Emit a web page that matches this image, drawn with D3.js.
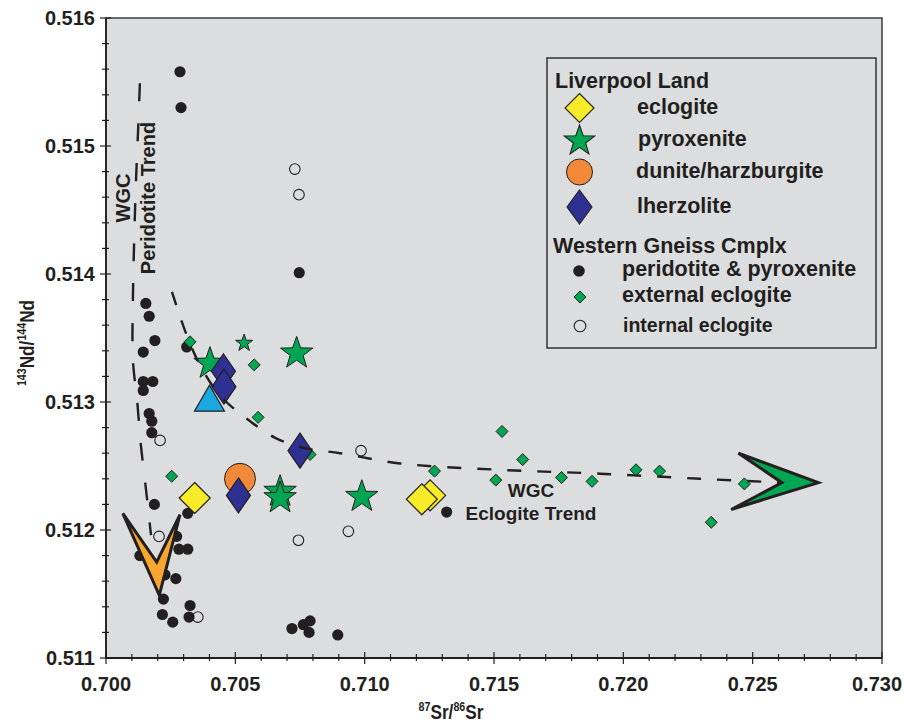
<!DOCTYPE html>
<html>
<head>
<meta charset="utf-8">
<script src="https://cdn.jsdelivr.net/npm/d3@7"></script>
<style>
body { margin: 0; background: #fff; }
text { font-family: "Liberation Sans", Arial, sans-serif; font-weight: bold; fill: #231f20; }
</style>
</head>
<body>
<div id="chart"></div>
<script>
// values: [87Sr/86Sr, 143Nd/144Nd]
const wgcPeridotite = [
  [0.70286, 0.51558], [0.70290, 0.51530], [0.70747, 0.51401],
  [0.70154, 0.51377], [0.70167, 0.51367], [0.70189, 0.51348], [0.70144, 0.51339],
  [0.70312, 0.51343], [0.70144, 0.51316], [0.70181, 0.51316], [0.70144, 0.51309],
  [0.70167, 0.51291], [0.70177, 0.51285], [0.70177, 0.51276], [0.70187, 0.51220],
  [0.70316, 0.51213], [0.70273, 0.51195], [0.70282, 0.51185], [0.70316, 0.51185],
  [0.70131, 0.51180], [0.70228, 0.51165], [0.70270, 0.51162], [0.70222, 0.51146],
  [0.70325, 0.51141], [0.70218, 0.51134], [0.70321, 0.51132], [0.70258, 0.51128],
  [0.70719, 0.51123], [0.70763, 0.51126], [0.70789, 0.51129], [0.70785, 0.51120],
  [0.70896, 0.51118], [0.71317, 0.51214]
];
const wgcInternal = [
  [0.70730, 0.51482], [0.70746, 0.51462], [0.70209, 0.51270], [0.70205, 0.51195],
  [0.70744, 0.51192], [0.70355, 0.51132], [0.70937, 0.51199], [0.70986, 0.51262]
];
const wgcExternal = [
  [0.70325, 0.51347], [0.70573, 0.51329], [0.70588, 0.51288], [0.70254, 0.51242],
  [0.70789, 0.51259], [0.71270, 0.51246], [0.71531, 0.51277], [0.71611, 0.51255],
  [0.71507, 0.51239], [0.71761, 0.51241], [0.71879, 0.51238], [0.72049, 0.51247],
  [0.72140, 0.51246], [0.72468, 0.51236], [0.72340, 0.51206]
];
const llEclogite = [[0.70343, 0.51225], [0.71253, 0.51227], [0.71221, 0.51224]];
const llPyroxenite = [[0.70402, 0.51330], [0.70737, 0.51338], [0.70673, 0.51230], [0.70673, 0.51225], [0.70989, 0.51226]];
const llPyroxeniteSmall = [[0.70534, 0.51346]];
const llDunite = [[0.70518, 0.51240]];
const llLherzolite = [[0.70454, 0.51324], [0.70456, 0.51312], [0.70750, 0.51262], [0.70512, 0.51227]];
const llOther = [[0.70400, 0.51302]];

const peridotiteTrend = [
  [0.70131, 0.51549], [0.70124, 0.51512], [0.70116, 0.51473], [0.70108, 0.51419],
  [0.70104, 0.51380], [0.70104, 0.51333], [0.70120, 0.51302], [0.70135, 0.51266],
  [0.70155, 0.51231], [0.70174, 0.51196]
];
const eclogiteTrend = [
  [0.70255, 0.51386], [0.70305, 0.51356], [0.70363, 0.51329], [0.70441, 0.51305],
  [0.70538, 0.51288], [0.70654, 0.51272], [0.70770, 0.51264], [0.70905, 0.51260],
  [0.71137, 0.51252], [0.71524, 0.51247], [0.71910, 0.51244], [0.72297, 0.51240],
  [0.72614, 0.51237]
];
const orangeArrow = [[0.70065, 0.51213], [0.70206, 0.51149], [0.70286, 0.51212], [0.70196, 0.51175]];
const greenArrow = [[0.72445, 0.51260], [0.72754, 0.51237], [0.72417, 0.51216], [0.72613, 0.51237]];

const xTicks = [0.700, 0.705, 0.710, 0.715, 0.720, 0.725, 0.730];
const yTicks = [0.511, 0.512, 0.513, 0.514, 0.515, 0.516];

const legendLL = ["eclogite", "pyroxenite", "dunite/harzburgite", "lherzolite"];
const legendWGC = ["peridotite & pyroxenite", "external eclogite", "internal eclogite"];

const width = 904, height = 726;
const ink = "#231f20";
const col = {yellow: "#f8ec28", green: "#00a651", orange: "#f2883a", blue: "#2e3192", cyan: "#19a9e1", amber: "#f7a731"};

const svg = d3.select("#chart").append("svg")
  .attr("width", width).attr("height", height);

const x = d3.scaleLinear().domain([0.700, 0.730]).range([106, 882]);
const y = d3.scaleLinear().domain([0.511, 0.516]).range([658, 18]);

// plot background + frame
svg.append("rect")
  .attr("x", x(0.700)).attr("y", y(0.516))
  .attr("width", x(0.730) - x(0.700)).attr("height", y(0.511) - y(0.516))
  .attr("fill", "#dcdddf").attr("stroke", ink).attr("stroke-width", 1.3);

// ticks crossing the axes
const xMinor = d3.range(0, 31).map(i => 0.700 + i * 0.001);
const yMinor = d3.range(0, 26).map(i => 0.511 + i * 0.0002);
const yb = y(0.511), xl = x(0.700);
svg.append("g").selectAll("line").data(xMinor).join("line")
  .attr("x1", d => x(d)).attr("x2", d => x(d))
  .attr("y1", (d, i) => yb - (i % 5 === 0 ? 6 : 4)).attr("y2", (d, i) => yb + (i % 5 === 0 ? 6 : 3))
  .attr("stroke", ink).attr("stroke-width", 1.2);
svg.append("g").selectAll("line").data(yMinor).join("line")
  .attr("y1", d => y(d)).attr("y2", d => y(d))
  .attr("x1", (d, i) => xl - (i % 5 === 0 ? 6 : 4)).attr("x2", (d, i) => xl + (i % 5 === 0 ? 5 : 3))
  .attr("stroke", ink).attr("stroke-width", 1.2);
svg.append("line").attr("x1", xl).attr("x2", x(0.730)).attr("y1", yb).attr("y2", yb)
  .attr("stroke", ink).attr("stroke-width", 1.8);
svg.append("line").attr("x1", xl).attr("x2", xl).attr("y1", y(0.516)).attr("y2", yb)
  .attr("stroke", ink).attr("stroke-width", 1.8);

const fmt = d3.format(".3f");
svg.append("g").selectAll("text").data(xTicks).join("text")
  .attr("x", d => Math.min(x(d), 877)).attr("y", 691)
  .attr("text-anchor", "middle").style("font-size", "20px")
  .text(fmt);
svg.append("g").selectAll("text").data(yTicks).join("text")
  .attr("x", 95).attr("y", d => y(d)).attr("dy", "0.36em")
  .attr("text-anchor", "end").style("font-size", "20px")
  .text(fmt);

// axis titles (condensed), superscripts raised by fixed pixels
function isoTitle(g, parts) {
  const t = g.append("text").attr("text-anchor", "middle").style("font-size", "21px");
  parts.forEach(p => {
    t.append("tspan").attr("dy", p.sup ? -8 : 8).style("font-size", p.sup ? "13px" : "21px").text(p.s);
  });
  t.attr("y", 8);
}
isoTitle(svg.append("g").attr("transform", "translate(451,711) scale(0.82,1)"),
  [{s: "87", sup: true}, {s: "Sr/"}, {s: "86", sup: true}, {s: "Sr"}]);
isoTitle(svg.append("g").attr("transform", "translate(26,343) rotate(-90) scale(0.82,1)"),
  [{s: "143", sup: true}, {s: "Nd/"}, {s: "144", sup: true}, {s: "Nd"}]);

// symbol paths
function diamond(w, h) { return `M0,${-h}L${w},0L0,${h}L${-w},0Z`; }
function star(r) {
  const p = [];
  for (let i = 0; i < 10; i++) {
    const a = -Math.PI / 2 + i * Math.PI / 5, rr = i % 2 ? r * 0.4 : r;
    p.push([rr * Math.cos(a), rr * Math.sin(a)]);
  }
  return "M" + p.join("L") + "Z";
}
function triangle(w, h) { return `M0,${-h * 0.55}L${w / 2},${h * 0.45}L${-w / 2},${h * 0.45}Z`; }

const marks = svg.append("g");
function plotPath(data, path, fill, sw) {
  marks.append("g").selectAll("path").data(data).join("path")
    .attr("transform", d => `translate(${x(d[0])},${y(d[1])})`)
    .attr("d", path).attr("fill", fill).attr("stroke", ink).attr("stroke-width", sw);
}

marks.append("g").selectAll("circle").data(wgcPeridotite).join("circle")
  .attr("cx", d => x(d[0])).attr("cy", d => y(d[1])).attr("r", 5.6).attr("fill", ink);
marks.append("g").selectAll("circle").data(wgcInternal).join("circle")
  .attr("cx", d => x(d[0])).attr("cy", d => y(d[1])).attr("r", 5.3)
  .attr("fill", "none").attr("stroke", ink).attr("stroke-width", 1.1);
plotPath(wgcExternal, diamond(6, 6), col.green, 1);
marks.append("g").selectAll("circle").data(llDunite).join("circle")
  .attr("cx", d => x(d[0])).attr("cy", d => y(d[1])).attr("r", 15.5)
  .attr("fill", col.orange).attr("stroke", ink).attr("stroke-width", 1);
plotPath(llEclogite, diamond(15.5, 15.5), col.yellow, 1.2);
plotPath(llPyroxenite, star(17), col.green, 1);
plotPath(llPyroxeniteSmall, star(9), col.green, 1);
plotPath(llLherzolite, diamond(12, 17.5), col.blue, 1.2);
plotPath(llOther, triangle(30, 26), col.cyan, 1.2);

// trend lines
const line = d3.line().x(d => x(d[0])).y(d => y(d[1])).curve(d3.curveCatmullRom);
svg.append("path").datum(peridotiteTrend).attr("d", line)
  .attr("fill", "none").attr("stroke", ink).attr("stroke-width", 2.4).attr("stroke-dasharray", "18,22");
svg.append("path").datum(eclogiteTrend).attr("d", line)
  .attr("fill", "none").attr("stroke", ink).attr("stroke-width", 2.4).attr("stroke-dasharray", "14,16");

// arrow heads
const poly = d3.line().x(d => x(d[0])).y(d => y(d[1])).curve(d3.curveLinearClosed);
svg.append("path").datum(orangeArrow).attr("d", poly)
  .attr("fill", col.amber).attr("stroke", ink).attr("stroke-width", 3).attr("stroke-linejoin", "miter");
svg.append("path").datum(greenArrow).attr("d", poly)
  .attr("fill", col.green).attr("stroke", ink).attr("stroke-width", 3).attr("stroke-linejoin", "miter");

// trend labels
const pl = svg.append("g").attr("transform", "translate(130,198) rotate(-90)");
pl.append("text").attr("text-anchor", "middle").style("font-size", "20px").text("WGC");
pl.append("text").attr("text-anchor", "middle").attr("y", 25).style("font-size", "20px").text("Peridotite Trend");
svg.append("text").attr("x", 531).attr("y", 497).attr("text-anchor", "middle").style("font-size", "19px").text("WGC");
svg.append("text").attr("x", 531).attr("y", 520).attr("text-anchor", "middle").style("font-size", "19px").text("Eclogite Trend");

// legend
const lg = svg.append("g");
lg.append("rect").attr("x", 547).attr("y", 58).attr("width", 329).attr("height", 290)
  .attr("fill", "none").attr("stroke", "#333").attr("stroke-width", 1.5);
lg.append("text").attr("x", 555).attr("y", 88).style("font-size", "21.5px").text("Liverpool Land");
const llRows = [
  {cy: 108, ty: 114, tx: 637, d: diamond(14.5, 14.5), fill: col.yellow},
  {cy: 141, ty: 146, tx: 638, d: star(16), fill: col.green},
  {cy: 172, ty: 178, tx: 636, d: null, fill: col.orange},
  {cy: 207, ty: 213, tx: 637, d: diamond(12.5, 17), fill: col.blue}
];
legendLL.forEach((name, i) => {
  const r = llRows[i];
  if (r.d) {
    lg.append("path").attr("transform", `translate(579.5,${r.cy})`).attr("d", r.d)
      .attr("fill", r.fill).attr("stroke", ink).attr("stroke-width", 1.1);
  } else {
    lg.append("circle").attr("cx", 579.5).attr("cy", r.cy).attr("r", 13)
      .attr("fill", r.fill).attr("stroke", ink).attr("stroke-width", 1);
  }
  lg.append("text").attr("x", r.tx).attr("y", r.ty).style("font-size", "21.5px").text(name);
});
lg.append("text").attr("x", 553).attr("y", 253).style("font-size", "21.5px").text("Western Gneiss Cmplx");
const wRows = [{cy: 271, ty: 276, tx: 622}, {cy: 297, ty: 302, tx: 622}, {cy: 326, ty: 332, tx: 623}];
legendWGC.forEach((name, i) => {
  const r = wRows[i];
  if (i === 0) lg.append("circle").attr("cx", 579).attr("cy", r.cy).attr("r", 5.8).attr("fill", ink);
  if (i === 1) lg.append("path").attr("transform", `translate(580,${r.cy})`).attr("d", diamond(6, 6))
    .attr("fill", col.green).attr("stroke", ink).attr("stroke-width", 1);
  if (i === 2) lg.append("circle").attr("cx", 580).attr("cy", r.cy).attr("r", 5.8)
    .attr("fill", "none").attr("stroke", ink).attr("stroke-width", 1.1);
  lg.append("text").attr("x", r.tx).attr("y", r.ty).style("font-size", i === 2 ? "19.5px" : "21.5px").text(name);
});
</script>
</body>
</html>
